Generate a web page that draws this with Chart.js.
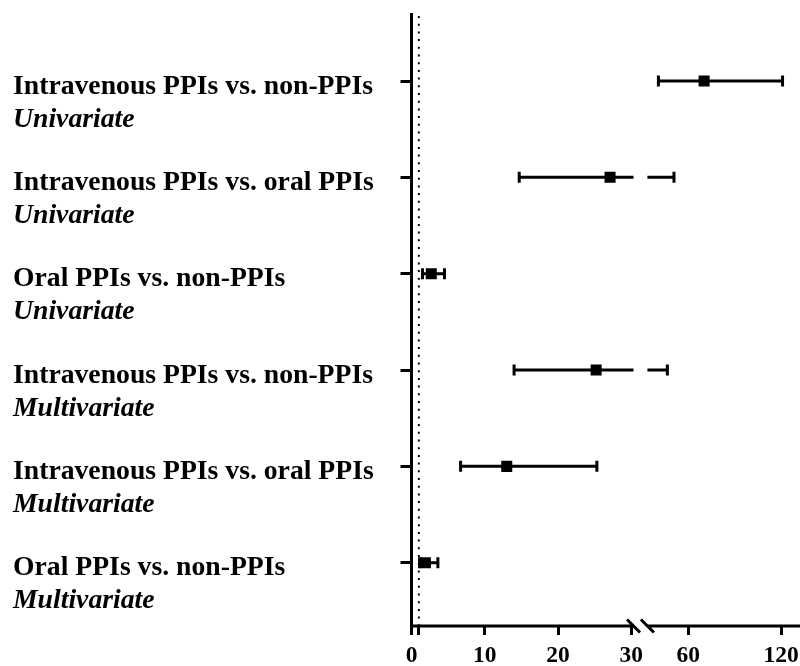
<!DOCTYPE html>
<html>
<head>
<meta charset="utf-8">
<script src="https://cdn.jsdelivr.net/npm/chart.js@4.4.0/dist/chart.umd.min.js"></script>
<style>
  html, body { margin: 0; padding: 0; background: #fff; }
</style>
</head>
<body>
<canvas id="forest" width="800" height="666"></canvas>
<script>
// odds ratios with 95% CI, top row first
var comparisons = ['Intravenous PPIs vs. non-PPIs', 'Intravenous PPIs vs. oral PPIs', 'Oral PPIs vs. non-PPIs',
                   'Intravenous PPIs vs. non-PPIs', 'Intravenous PPIs vs. oral PPIs', 'Oral PPIs vs. non-PPIs'];
var models = ['Univariate', 'Univariate', 'Univariate', 'Multivariate', 'Multivariate', 'Multivariate'];
var oddsRatio = [70.2, 27.1, 2.7, 25.2, 13.0, 1.9];
var ciLower = [40.6, 14.7, 1.5, 14.0, 6.7, 1.1];
var ciUpper = [121, 50.7, 4.5, 46.4, 25.3, 3.6];
var lowTicks = [0, 1, 10, 20, 30];
var highTicks = [60, 120];
var refValue = 1;

// broken x axis: left part 0..30, right part starts again at ~33.5
var breakLow = 30.3;
var breakHigh = 33.5;

var serif = "'Liberation Serif', 'Times New Roman', serif";

function rowOf(i) { return i + 1; }

var lowPoints = [], highPoints = [];
oddsRatio.forEach(function(v, i) {
  var p = { x: v, y: rowOf(i) };
  if (v <= breakLow) lowPoints.push(p); else highPoints.push(p);
});

var forestPlugin = {
  id: 'forest',
  beforeDatasetsDraw: function(chart) {
    var ctx = chart.ctx;
    var x1 = chart.scales.x1, x2 = chart.scales.x2, y = chart.scales.y;
    var area = chart.chartArea;

    function px(v) { return v <= breakLow ? x1.getPixelForValue(v) : x2.getPixelForValue(v); }

    ctx.save();
    // dotted line at OR = 1
    ctx.strokeStyle = '#000';
    ctx.lineWidth = 2;
    ctx.setLineDash([2, 5.7]);
    ctx.beginPath();
    ctx.moveTo(x1.getPixelForValue(refValue), area.top + 2);
    ctx.lineTo(x1.getPixelForValue(refValue), area.bottom);
    ctx.stroke();
    ctx.setLineDash([]);

    // confidence intervals
    ctx.lineWidth = 3;
    for (var i = 0; i < oddsRatio.length; i++) {
      var yy = y.getPixelForValue(rowOf(i));
      var lo = ciLower[i], hi = ciUpper[i];
      ctx.beginPath();
      if (lo < breakLow) {
        ctx.moveTo(x1.getPixelForValue(lo), yy);
        ctx.lineTo(x1.getPixelForValue(Math.min(hi, breakLow)), yy);
      }
      if (hi > breakHigh) {
        ctx.moveTo(x2.getPixelForValue(Math.max(lo, breakHigh)), yy);
        ctx.lineTo(x2.getPixelForValue(hi), yy);
      }
      [lo, hi].forEach(function(v) {
        ctx.moveTo(px(v), yy - 5.5);
        ctx.lineTo(px(v), yy + 5.5);
      });
      ctx.stroke();
    }

    // x axis line with break marks
    var ay = area.bottom;
    var bx1 = x1.getPixelForValue(breakLow), bx2 = x2.getPixelForValue(breakHigh);
    ctx.beginPath();
    ctx.moveTo(x1.left - 1.5, ay);
    ctx.lineTo(bx1, ay);
    ctx.moveTo(bx2, ay);
    ctx.lineTo(x2.right, ay);
    [bx1, bx2].forEach(function(bx) {
      ctx.moveTo(bx - 6.5, ay - 6.5);
      ctx.lineTo(bx + 6.5, ay + 6.5);
    });
    ctx.stroke();

    // row labels: comparison (bold) and model type (bold italic)
    ctx.fillStyle = '#000';
    ctx.textAlign = 'left';
    ctx.textBaseline = 'alphabetic';
    for (var j = 0; j < comparisons.length; j++) {
      var ty = y.getPixelForValue(rowOf(j));
      ctx.font = 'bold 27.7px ' + serif;
      ctx.fillText(comparisons[j], y.left + 1, ty + 12.5);
      ctx.font = 'italic bold 27.7px ' + serif;
      ctx.fillText(models[j], y.left + 1, ty + 45.5);
    }
    ctx.restore();
  }
};

var axisGrid = function(len) {
  return { drawOnChartArea: false, drawTicks: true, tickLength: len, tickWidth: 3,
           tickColor: '#000', color: '#000', lineWidth: 3 };
};
var tickFont = { family: serif, size: 23.5, weight: 'bold' };
var noPad = function(s) { s.paddingLeft = 0; s.paddingRight = 0; s.paddingTop = 0; s.paddingBottom = 0; };

new Chart(document.getElementById('forest').getContext('2d'), {
  type: 'scatter',
  data: {
    datasets: [
      { data: lowPoints, xAxisID: 'x1', yAxisID: 'y' },
      { data: highPoints, xAxisID: 'x2', yAxisID: 'y' }
    ]
  },
  options: {
    responsive: false,
    animation: false,
    layout: { autoPadding: false, padding: { left: 12, top: 14, right: 0, bottom: 0 } },
    elements: {
      point: { pointStyle: 'rect', radius: 7.8, backgroundColor: '#000', borderWidth: 0 }
    },
    plugins: { legend: { display: false }, tooltip: { enabled: false } },
    scales: {
      x1: {
        type: 'linear', position: 'bottom', stack: 'xs', stackWeight: 236.3,
        min: 0, max: 32.2,
        afterBuildTicks: function(s) { s.ticks = lowTicks.map(function(v) { return { value: v }; }); },
        afterFit: function(s) { s.height = 40; noPad(s); },
        border: { display: false },
        grid: axisGrid(9),
        ticks: {
          autoSkip: false, maxRotation: 0, padding: 7, color: '#000', font: tickFont,
          callback: function(v) { return v === refValue ? '' : v; }
        }
      },
      x2: {
        type: 'linear', position: 'bottom', stack: 'xs', stackWeight: 152.8,
        min: breakHigh, max: 132.3,
        afterBuildTicks: function(s) { s.ticks = highTicks.map(function(v) { return { value: v }; }); },
        afterFit: function(s) { s.height = 40; noPad(s); },
        border: { display: false },
        grid: axisGrid(9),
        ticks: { autoSkip: false, maxRotation: 0, padding: 7, color: '#000', font: tickFont }
      },
      y: {
        type: 'linear', position: 'left', reverse: true,
        min: 0.3045, max: 6.657,
        afterBuildTicks: function(s) { s.ticks = comparisons.map(function(c, i) { return { value: rowOf(i) }; }); },
        afterFit: function(s) { s.width = 399.5; noPad(s); },
        border: { display: true, color: '#000', width: 3 },
        grid: axisGrid(11),
        ticks: { display: false }
      }
    }
  },
  plugins: [forestPlugin]
});
</script>
</body>
</html>
